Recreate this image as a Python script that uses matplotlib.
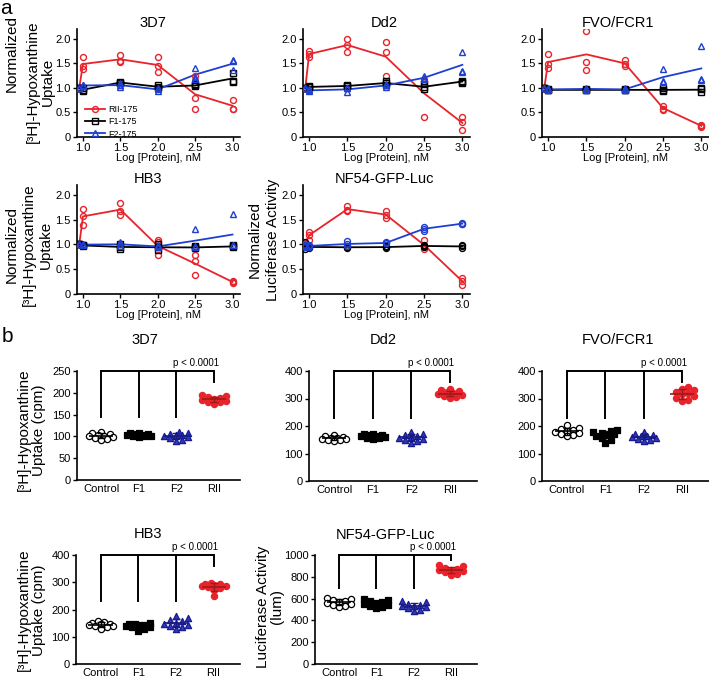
import numpy as np
import matplotlib
matplotlib.use("Agg")
import matplotlib.pyplot as plt
from matplotlib.lines import Line2D

plt.rcParams['font.family'] = ['Liberation Sans', 'DejaVu Sans']

RED = '#e8232b'
BLUE = '#1f3fd0'

# ---- panel a: dose response, 3 replicates per concentration ----
conc = [0.95, 1.0, 1.5, 2.0, 2.5, 3.0]

d3d7_rii = [(1, 1, 1), (1.63, 1.45, 1.38), (1.68, 1.55, 1.52), (1.63, 1.45, 1.32), (1.25, 0.79, 0.57), (0.76, 0.58, 0.57)]
d3d7_f1 = [(1, 1, 1), (0.99, 0.96, 0.94), (1.13, 1.11, 1.09), (1.05, 1.02, 1.0), (1.07, 1.05, 1.03), (1.30, 1.15, 1.13)]
d3d7_f2 = [(1, 1, 1), (1.06, 1.05, 1.04), (1.10, 1.05, 1.02), (1.0, 0.97, 0.94), (1.40, 1.22, 1.19), (1.57, 1.55, 1.36)]

dd2_rii = [(1, 1, 1), (1.75, 1.69, 1.63), (2.0, 1.88, 1.74), (1.93, 1.74, 1.24), (1.15, 1.12, 0.40), (0.40, 0.31, 0.15)]
dd2_f1 = [(1, 1, 1), (1.03, 1.02, 1.01), (1.05, 1.04, 1.03), (1.15, 1.10, 1.05), (1.08, 1.02, 0.97), (1.15, 1.13, 1.11)]
dd2_f2 = [(1, 1, 1), (0.97, 0.95, 0.93), (1.0, 0.99, 0.92), (1.08, 1.05, 1.02), (1.24, 1.20, 1.18), (1.73, 1.35, 1.33)]

fvo_rii = [(1, 1, 1), (1.69, 1.49, 1.40), (2.16, 1.52, 1.37), (1.57, 1.48, 1.45), (0.64, 0.58, 0.55), (0.25, 0.22, 0.21)]
fvo_f1 = [(1, 1, 1), (0.97, 0.96, 0.95), (0.97, 0.96, 0.95), (0.97, 0.96, 0.95), (0.99, 0.96, 0.93), (1.0, 0.97, 0.92)]
fvo_f2 = [(1, 1, 1), (0.99, 0.97, 0.95), (1.0, 0.98, 0.96), (0.99, 0.97, 0.95), (1.38, 1.15, 1.13), (1.85, 1.18, 1.16)]

hb3_rii = [(1, 1, 1), (1.72, 1.58, 1.40), (1.84, 1.67, 1.60), (1.09, 1.04, 0.78), (0.79, 0.66, 0.39), (0.26, 0.24, 0.23)]
hb3_f1 = [(1, 1, 1), (0.99, 0.98, 0.97), (1.0, 0.95, 0.90), (1.0, 0.95, 0.88), (0.96, 0.94, 0.92), (0.98, 0.96, 0.94)]
hb3_f2 = [(1, 1, 1), (1.0, 1.0, 0.99), (1.04, 1.0, 0.97), (0.98, 0.96, 0.94), (1.32, 0.96, 0.95), (1.62, 0.99, 0.99)]

nf54_rii = [(1.02, 1.0, 0.98), (1.26, 1.20, 1.10), (1.77, 1.70, 1.67), (1.68, 1.60, 1.53), (1.10, 0.97, 0.90), (0.32, 0.27, 0.18)]
nf54_f1 = [(1.04, 0.96, 0.91), (0.97, 0.95, 0.93), (0.97, 0.94, 0.92), (0.96, 0.95, 0.93), (0.99, 0.97, 0.95), (0.99, 0.96, 0.93)]
nf54_f2 = [(0.98, 0.96, 0.95), (0.99, 0.97, 0.95), (1.06, 1.0, 0.97), (1.04, 1.03, 1.02), (1.36, 1.31, 1.28), (1.43, 1.42, 1.41)]

# ---- panel b: uptake per group, 10 wells each ----
groups = ['Control', 'F1', 'F2', 'RII']

b3d7_ctrl = [110, 108, 106, 104, 102, 101, 99, 97, 94, 92]
b3d7_f1 = [108, 107, 106, 105, 104, 103, 102, 101, 100, 98]
b3d7_f2 = [110, 108, 106, 104, 103, 101, 99, 96, 92, 90]
b3d7_rii = [195, 192, 190, 188, 186, 184, 182, 180, 178, 175]

bdd2_ctrl = [166, 163, 160, 158, 156, 154, 152, 150, 148, 145]
bdd2_f1 = [172, 170, 168, 166, 164, 162, 160, 158, 156, 154]
bdd2_f2 = [180, 172, 168, 164, 160, 157, 153, 150, 145, 140]
bdd2_rii = [333, 330, 326, 322, 319, 316, 313, 310, 307, 303]

bfvo_ctrl = [205, 192, 188, 185, 182, 179, 176, 172, 168, 162]
bfvo_f1 = [185, 182, 178, 174, 170, 166, 162, 156, 148, 138]
bfvo_f2 = [178, 170, 167, 164, 162, 160, 157, 154, 150, 146]
bfvo_rii = [342, 335, 330, 325, 320, 315, 308, 302, 295, 290]

bhb3_ctrl = [158, 154, 150, 147, 145, 143, 140, 138, 135, 130]
bhb3_f1 = [150, 148, 146, 144, 142, 140, 137, 134, 128, 122]
bhb3_f2 = [175, 168, 162, 157, 152, 148, 144, 140, 135, 130]
bhb3_rii = [296, 294, 292, 290, 288, 285, 282, 278, 272, 250]

bnf54_ctrl = [610, 600, 590, 580, 570, 562, 555, 545, 535, 520]
bnf54_f1 = [595, 585, 575, 565, 558, 550, 543, 535, 525, 510]
bnf54_f2 = [575, 565, 555, 545, 535, 528, 520, 510, 500, 490]
bnf54_rii = [905, 895, 885, 875, 865, 858, 850, 840, 830, 820]

W, H = 709, 678
fig = plt.figure(figsize=(W / 100, H / 100), dpi=100)


def add_ax(l, t, r, b):
    # axes box given in pixels from the top left corner
    return fig.add_axes([l / W, 1 - b / H, (r - l) / W, (b - t) / H])


def ftext(x, y, s, **kw):
    fig.text(x / W, 1 - y / H, s, **kw)


def style(ax):
    for sp in ['top', 'right']:
        ax.spines[sp].set_visible(False)
    for sp in ['left', 'bottom']:
        ax.spines[sp].set_linewidth(1.2)
    ax.tick_params(labelsize=8, length=3, width=1.0, pad=1.5)


def dose_panel(ax, rii, f1, f2, all_circles=False, legend=False):
    series = [(rii, RED, 'o', 'RII-175'), (f1, 'black', 's', 'F1-175'), (f2, BLUE, '^', 'F2-175')]
    handles = []
    for vals, c, m, lab in series:
        vals = np.array(vals)
        mk = 'o' if all_circles else m
        ax.plot(conc, vals.mean(axis=1), color=c, lw=1.3, zorder=2)
        for k in range(vals.shape[1]):
            ax.plot(conc, vals[:, k], ls='none', marker=mk, mfc='none', mec=c,
                    ms=4.3, mew=1.0, zorder=3)
        handles.append(Line2D([], [], color=c, lw=1.3, marker=mk, mfc='none', mec=c, ms=4.3, label=lab))
    ax.set_xlim(0.92, 3.1)
    ax.set_ylim(0, 2.2)
    ax.set_xticks([1.0, 1.5, 2.0, 2.5, 3.0])
    ax.set_xticklabels(['1.0', '1.5', '2.0', '2.5', '3.0'])
    ax.set_yticks([0, 0.5, 1.0, 1.5, 2.0])
    ax.set_yticklabels(['0', '0.5', '1.0', '1.5', '2.0'])
    ax.set_xlabel('Log [Protein], nM', fontsize=8, labelpad=0)
    style(ax)
    if legend:
        ax.legend(handles=handles, loc='lower left', bbox_to_anchor=(0.0, -0.09), frameon=False,
                  fontsize=6.5, handlelength=2.2, labelspacing=0.35, handletextpad=0.4)


def swarm(vals, px_per_y, px_per_x, min_d=5.5, step=3.0, max_k=9):
    # spread points sideways (at most +-12 px) so markers do not pile up
    order = np.argsort(vals)
    cands = [((k + 1) // 2) * (1 if k % 2 else -1) * step for k in range(max_k)]
    placed = []
    offs = np.zeros(len(vals))
    for i in order:
        y = vals[i] * px_per_y
        best, best_d = 0.0, -1.0
        for dx in cands:
            d = min([np.hypot(dx - px, y - py) for px, py in placed] or [99.0])
            if d >= min_d:
                best = dx
                break
            if d > best_d:
                best, best_d = dx, d
        placed.append((best, y))
        offs[i] = best / px_per_x
    return offs


def group_panel(ax, data, top, yticks, drop_low, drop_rii, box):
    l, t, r, b = box
    ax.set_xlim(-0.65, 3.7)
    ax.set_ylim(0, top)
    px_y = (b - t) / top
    px_x = (r - l) / 4.35
    kinds = [('o', 'white', 'black', 'black'), ('s', 'black', 'black', 'black'),
             ('^', '#2a3ab8', '#1a1a90', '#1a1a80'), ('o', RED, RED, '#a01a1a')]
    for i, (vals, (m, fc, ec, lc)) in enumerate(zip(data, kinds)):
        vals = np.array(vals, float)
        xo = swarm(vals, px_y, px_x)
        ax.scatter(i + xo, vals, marker=m, s=20, facecolor=fc, edgecolor=ec, linewidth=0.9, zorder=3)
        mean, sd = vals.mean(), vals.std(ddof=1)
        ax.hlines(mean, i - 0.32, i + 0.32, color=lc, lw=1.2, zorder=4)
        ax.errorbar(i, mean, yerr=sd, color=lc, lw=1.0, capsize=3, capthick=1.0, zorder=4)
    # significance bracket
    ax.plot([0, 3], [top, top], color='black', lw=1.4, clip_on=False, solid_capstyle='butt')
    for i in range(3):
        ax.plot([i, i], [drop_low, top], color='black', lw=1.4, clip_on=False)
    ax.plot([3, 3], [drop_rii, top], color='black', lw=1.4, clip_on=False)
    ax.text(2.52, top * 1.025, 'p < 0.0001', ha='center', va='bottom', fontsize=7)
    ax.set_xticks(range(4))
    ax.set_xticklabels(groups)
    ax.set_yticks(yticks)
    style(ax)
    ax.tick_params(axis='x', length=0, pad=3)


# panel a
ax = add_ax(77, 29, 240, 137)
dose_panel(ax, d3d7_rii, d3d7_f1, d3d7_f2, legend=True)
ax = add_ax(303, 29, 470, 137)
dose_panel(ax, dd2_rii, dd2_f1, dd2_f2)
ax = add_ax(542, 29, 709, 137)
dose_panel(ax, fvo_rii, fvo_f1, fvo_f2)
ax = add_ax(77, 185, 240, 294)
dose_panel(ax, hb3_rii, hb3_f1, hb3_f2)
ax = add_ax(303, 185, 470, 294)
dose_panel(ax, nf54_rii, nf54_f1, nf54_f2, all_circles=True)

# panel b
boxes = [(77, 371, 240, 480), (309, 371, 477, 481), (542, 371, 709, 481),
         (76, 555, 240, 664), (315, 555, 477, 664)]
bdata = [
    ([b3d7_ctrl, b3d7_f1, b3d7_f2, b3d7_rii], 250, [0, 50, 100, 150, 200, 250], 145, 225),
    ([bdd2_ctrl, bdd2_f1, bdd2_f2, bdd2_rii], 400, [0, 100, 200, 300, 400], 230, 360),
    ([bfvo_ctrl, bfvo_f1, bfvo_f2, bfvo_rii], 400, [0, 100, 200, 300, 400], 230, 360),
    ([bhb3_ctrl, bhb3_f1, bhb3_f2, bhb3_rii], 400, [0, 100, 200, 300, 400], 230, 360),
    ([bnf54_ctrl, bnf54_f1, bnf54_f2, bnf54_rii], 1000, [0, 200, 400, 600, 800, 1000], 700, 955),
]
for box, (data, top, yt, dl, dr) in zip(boxes, bdata):
    ax = add_ax(*box)
    group_panel(ax, data, top, yt, dl, dr, box)

# titles
tkw = dict(ha='center', va='center', fontsize=10.5)
for x, y, s in [(153, 23, '3D7'), (384, 23, 'Dd2'), (618, 23, 'FVO/FCR1'),
                (148, 179, 'HB3'), (384, 179, 'NF54-GFP-Luc'),
                (145, 340, '3D7'), (383, 340, 'Dd2'), (618, 340, 'FVO/FCR1'),
                (148, 534, 'HB3'), (385, 535, 'NF54-GFP-Luc')]:
    ftext(x, y, s, **tkw)

# y labels
ykw = dict(ha='center', va='center', rotation=90, fontsize=11, multialignment='center')
ftext(12, 54, 'Normalized', **ykw)
ftext(40, 82, '[³H]-Hypoxanthine\nUptake', linespacing=1.1, **ykw)
ftext(29, 245, 'Normalized\n[³H]-Hypoxanthine\nUptake', linespacing=1.3, **ykw)
ftext(264, 240, 'Normalized\nLuciferase Activity', linespacing=1.35, **ykw)
ftext(31, 430, '[³H]-Hypoxanthine\nUptake (cpm)', linespacing=1.1, **ykw)
ftext(31, 610, '[³H]-Hypoxanthine\nUptake (cpm)', linespacing=1.1, **ykw)
ftext(270, 607, 'Luciferase Activity\n(lum)', linespacing=1.05, **ykw)

# panel letters
ftext(6, 9, 'a', ha='center', va='center', fontsize=15)
ftext(7, 336, 'b', ha='center', va='center', fontsize=15)

fig.savefig('out.png', dpi=100)
